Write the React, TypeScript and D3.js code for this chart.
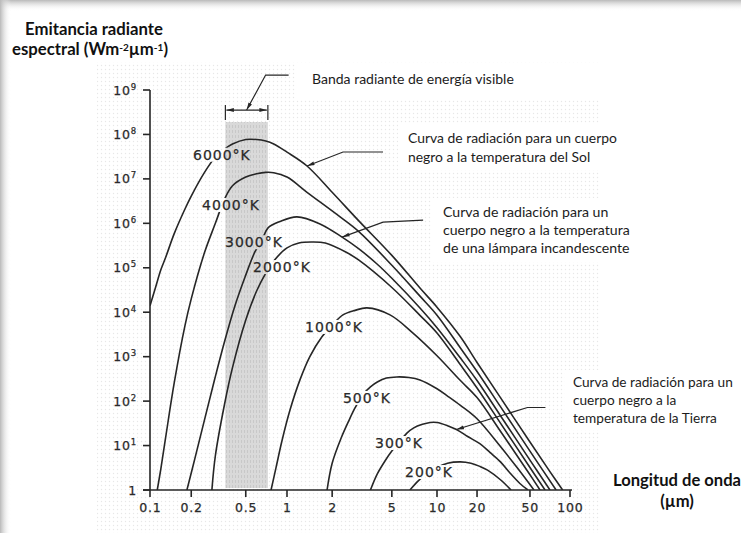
import React, { useEffect, useRef } from "react";
import * as d3 from "d3";

const W = 741;
const H = 533;

// ---- axis ticks ----
const xTickValues = [0.1, 0.2, 0.5, 1, 2, 5, 10, 20, 50, 100];
const xTickLabels = ["0.1", "0.2", "0.5", "1", "2", "5", "10", "20", "50", "100"];
const yTickValues = [1, 1e1, 1e2, 1e3, 1e4, 1e5, 1e6, 1e7, 1e8, 1e9];
const yTickExponents = [0, 1, 2, 3, 4, 5, 6, 7, 8, 9];

// ---- black-body curves: [wavelength µm, spectral emittance W m-2 µm-1] ----
const curve6000: [number, number][] = [
  [0.1, 1.4e4], [0.11, 3.7e4], [0.12, 9e4], [0.13, 1.7e5], [0.15, 5.8e5], [0.18, 2.1e6],
  [0.2, 4.1e6], [0.25, 1.4e7], [0.3, 3.1e7], [0.35, 4.7e7], [0.4, 6.1e7], [0.5, 7.7e7],
  [0.6, 7.7e7], [0.7, 7.1e7], [0.8, 6.1e7], [1, 4.0e7], [1.36, 1.95e7], [2, 5e6],
  [3, 1.15e6], [5, 1.9e5], [7.7, 3.5e4], [10, 1.3e4], [15, 2.8e3], [20, 740],
  [30, 120], [50, 12], [70, 2.7], [88, 1],
];
const curve4000: [number, number][] = [
  [0.113, 1], [0.12, 3], [0.13, 15], [0.15, 250], [0.18, 5e3], [0.2, 2e4], [0.25, 2.2e5],
  [0.3, 1e6], [0.35, 3.5e6], [0.4, 7e6], [0.5, 1.1e7], [0.6, 1.3e7], [0.7, 1.4e7],
  [0.8, 1.38e7], [1, 1.1e7], [1.36, 5e6], [2.26, 1.4e6], [3, 6.6e5], [5, 1.14e5],
  [7.7, 2.3e4], [10, 8.6e3], [15, 1.57e3], [20, 464], [30, 75], [50, 7.5], [78.6, 1],
];
const curve3000: [number, number][] = [
  [0.186, 1], [0.213, 5.2], [0.252, 42], [0.298, 330], [0.353, 2.4e3], [0.417, 1.4e4],
  [0.494, 6.2e4], [0.584, 2.3e5], [0.656, 4.2e5], [0.727, 7.9e5], [0.889, 1.1e6],
  [1.166, 1.4e6], [1.66, 9.7e5], [2.33, 4.9e5], [3, 2.7e5], [4, 1.2e5], [5, 5.8e4],
  [7.7, 1.25e4], [10, 4.5e3], [15, 930], [20, 290], [30, 47], [50, 4.7], [70.7, 1],
];
const curve2000: [number, number][] = [
  [0.283, 1], [0.3, 5.9], [0.35, 85], [0.4, 566], [0.5, 6.7e3], [0.6, 3e4], [0.7, 7.6e4],
  [0.8, 1.42e5], [1, 2.8e5], [1.2, 3.6e5], [1.45, 3.8e5], [1.8, 3.6e5], [2.5, 2.2e5],
  [3, 1.5e5], [5, 3.6e4], [7.7, 8.5e3], [10, 3.4e3], [15, 656], [20, 197], [30, 32],
  [50, 3.2], [64.9, 1],
];
const curve1000: [number, number][] = [
  [0.765, 1], [0.83, 3.1], [0.92, 13], [1.047, 63], [1.22, 300], [1.42, 1e3], [1.71, 2.8e3],
  [2.03, 5.4e3], [2.36, 8.7e3], [2.84, 1.1e4], [3.41, 1.25e4], [4.86, 8.7e3], [6.92, 3.4e3],
  [10, 1.05e3], [15, 290], [20, 120], [30, 21], [50, 2.2], [59.5, 1],
];
const curve500: [number, number][] = [
  [1.85, 1], [2, 4], [2.3, 15], [2.6, 38], [2.84, 70], [3.2, 140], [3.6, 210], [4, 270],
  [4.6, 330], [5.4, 350], [6.5, 340], [7.7, 300], [10, 190], [12, 130], [15, 80], [20, 40],
  [30, 9.5], [40, 3.2], [53.6, 1],
];
const curve300: [number, number][] = [
  [3.6, 1], [4, 2.3], [4.5, 4.5], [5, 7.5], [5.5, 11], [6.3, 19], [7, 25], [8, 30], [9, 33],
  [10, 33], [12, 28], [14, 23], [17, 16], [21, 11], [25, 7], [30, 4.3], [35, 2.5],
  [42, 1.4], [48.3, 1],
];
const curve200: [number, number][] = [
  [6.6, 1], [7.5, 1.6], [8.5, 2.3], [10, 3.2], [12, 4.0], [15, 4.3], [18, 4.0], [21, 3.4],
  [24, 2.8], [30, 1.7], [36, 1],
];

const curveNames = ["6000°K", "4000°K", "3000°K", "2000°K", "1000°K", "500°K", "300°K", "200°K"];
// label anchor (start, baseline) in data coordinates
const curveLabelAt: [number, number][] = [
  [0.206, 2.7e7], [0.24, 2e6], [0.353, 2.9e5], [0.565, 8e4], [1.32, 3.6e3], [2.36, 91],
  [3.86, 8.8], [6.13, 1.96],
];

// visible band (µm) and its top
const visibleBand = [0.355, 0.725];
const visibleBandTop = 1.9e8;

// leader tips on curves: [curve index, wavelength]
const sunArrow: [number, number] = [0, 1.36];
const lampArrow: [number, number] = [2, 2.33];
const earthArrow: [number, number] = [6, 14];

const titleLines = ["Emitancia radiante", "espectral (Wm"];
const xAxisTitle = ["Longitud de onda", "(µm)"];
const notes = [
  { lines: ["Banda radiante de energía visible"], x: 312, y0: 84, dy: 18, fit: 0, width: 202 },
  { lines: ["Curva de radiación para un cuerpo", "negro a la temperatura del Sol"], x: 408, y0: 143, dy: 18.5, fit: 0, width: 209 },
  { lines: ["Curva de radiación para un", "cuerpo negro a la temperatura", "de una lámpara incandescente"], x: 443, y0: 217, dy: 18, fit: 1, width: 187 },
  { lines: ["Curva de radiación para un", "cuerpo negro a la", "temperatura de la Tierra"], x: 573, y0: 387, dy: 18, fit: 0, width: 160 },
];

export default function App() {
  const ref = useRef<SVGSVGElement | null>(null);

  useEffect(() => {
    const svg = d3.select(ref.current as SVGSVGElement);
    svg.selectAll("*").remove();

    const x = d3.scaleLog().domain([0.1, 1, 10, 100]).range([150, 287, 437, 570]);
    const y = d3.scaleLog().domain([1, 1e9]).range([490, 90]);
    const curves = [curve6000, curve4000, curve3000, curve2000, curve1000, curve500, curve300, curve200];

    const ink = "#262626";
    const defs = svg.append("defs");

    const gTop = defs.append("linearGradient").attr("id", "shTop").attr("x1", 0).attr("y1", 0).attr("x2", 0).attr("y2", 1);
    gTop.append("stop").attr("offset", "0%").attr("stop-color", "#b9b9b9");
    gTop.append("stop").attr("offset", "100%").attr("stop-color", "#ffffff").attr("stop-opacity", 0);
    const gLeft = defs.append("linearGradient").attr("id", "shLeft").attr("x1", 0).attr("y1", 0).attr("x2", 1).attr("y2", 0);
    gLeft.append("stop").attr("offset", "0%").attr("stop-color", "#b9b9b9");
    gLeft.append("stop").attr("offset", "100%").attr("stop-color", "#ffffff").attr("stop-opacity", 0);

    const pat = defs.append("pattern").attr("id", "dots").attr("patternUnits", "userSpaceOnUse").attr("width", 4).attr("height", 4);
    pat.append("circle").attr("cx", 1.5).attr("cy", 1.5).attr("r", 0.7).attr("fill", "#e7e7e7");

    const bandPat = defs.append("pattern").attr("id", "bandPat").attr("patternUnits", "userSpaceOnUse").attr("width", 3).attr("height", 5);
    bandPat.append("rect").attr("width", 3).attr("height", 5).attr("fill", "#d9d9d9");
    bandPat.append("rect").attr("x", 1).attr("width", 1).attr("height", 3).attr("fill", "#c8c8c8");

    const marker = defs.append("marker").attr("id", "arr").attr("viewBox", "0 0 10 6")
      .attr("refX", 10).attr("refY", 3).attr("markerWidth", 8).attr("markerHeight", 4.5)
      .attr("markerUnits", "userSpaceOnUse").attr("orient", "auto-start-reverse");
    marker.append("path").attr("d", "M0,0.4 L10,3 L0,5.6 Z").attr("fill", ink);

    const clip = defs.append("clipPath").attr("id", "plotClip");
    clip.append("rect").attr("x", 150).attr("y", 60).attr("width", 430).attr("height", 430);

    const mask = defs.append("mask").attr("id", "lblMask").attr("maskUnits", "userSpaceOnUse")
      .attr("x", 0).attr("y", 0).attr("width", W).attr("height", H);
    mask.append("rect").attr("width", W).attr("height", H).attr("fill", "white");

    // background + frame shadow
    svg.append("rect").attr("width", W).attr("height", H).attr("fill", "#ffffff");
    svg.append("rect").attr("width", W).attr("height", 11).attr("fill", "url(#shTop)");
    svg.append("rect").attr("width", 11).attr("height", H).attr("fill", "url(#shLeft)");

    // halftone texture of the scanned figure
    svg.append("rect").attr("x", 97).attr("y", 62).attr("width", 503).attr("height", 471).attr("fill", "url(#dots)");
    const boxes = [[296, 64, 304, 36], [398, 124, 202, 46], [432, 198, 168, 64], [565, 370, 35, 60]];
    boxes.forEach(b => svg.append("rect").attr("x", b[0]).attr("y", b[1]).attr("width", b[2]).attr("height", b[3]).attr("fill", "#fff"));

    // visible band
    svg.append("rect")
      .attr("x", x(visibleBand[0])).attr("y", y(visibleBandTop))
      .attr("width", x(visibleBand[1]) - x(visibleBand[0]))
      .attr("height", y(1) - 2 - y(visibleBandTop))
      .attr("fill", "url(#bandPat)");

    // axes
    const axis = svg.append("g").attr("stroke", ink).attr("stroke-width", 1.6);
    axis.append("line").attr("x1", x(0.1)).attr("x2", x(0.1)).attr("y1", y(1e9)).attr("y2", y(1));
    axis.append("line").attr("x1", x(0.1) - 7).attr("x2", x(100) + 2).attr("y1", y(1)).attr("y2", y(1));
    yTickValues.forEach(v => axis.append("line").attr("x1", x(0.1) - 7).attr("x2", x(0.1)).attr("y1", y(v)).attr("y2", y(v)));
    xTickValues.forEach(v => axis.append("line").attr("x1", x(v)).attr("x2", x(v)).attr("y1", y(1)).attr("y2", y(1) + 7));

    const tickFont = (s: any) => s.attr("font-family", "DejaVu Sans").attr("font-size", 12.5)
      .attr("letter-spacing", 0.8).attr("fill", "#2a2a2a").attr("stroke", "#2a2a2a").attr("stroke-width", 0.25);

    xTickValues.forEach((v, i) => {
      tickFont(svg.append("text")).attr("x", x(v) + 0.4).attr("y", y(1) + 22).attr("text-anchor", "middle").text(xTickLabels[i]);
    });
    yTickValues.forEach((v, i) => {
      const t = tickFont(svg.append("text")).attr("x", x(0.1) - 13).attr("y", y(v) + 4.5).attr("text-anchor", "end");
      if (yTickExponents[i] === 0) {
        t.text("1");
      } else {
        t.append("tspan").text("10");
        t.append("tspan").attr("dy", -5).attr("font-size", 8.5).text(String(yTickExponents[i]));
      }
    });

    // curve labels (measured to cut gaps in curves)
    curveNames.forEach((name, i) => {
      const t = svg.append("text")
        .attr("x", x(curveLabelAt[i][0])).attr("y", y(curveLabelAt[i][1]))
        .attr("font-family", "DejaVu Sans").attr("font-size", 14).attr("letter-spacing", 1)
        .attr("fill", "#2a2a2a").attr("stroke", "#2a2a2a").attr("stroke-width", 0.25)
        .text(name);
      const bb = (t.node() as SVGTextElement).getBBox();
      mask.append("rect").attr("x", bb.x - 1).attr("y", bb.y + 1).attr("width", bb.width + 1).attr("height", bb.height - 2).attr("fill", "black");
    });

    // curves
    const line = d3.line<[number, number]>()
      .x(d => x(d[0])).y(d => y(d[1]))
      .curve(d3.curveCatmullRom.alpha(0.5));
    const cg = svg.append("g").attr("clip-path", "url(#plotClip)").append("g").attr("mask", "url(#lblMask)");
    curves.forEach(c => {
      cg.append("path").attr("d", line(c) as string).attr("fill", "none").attr("stroke", ink).attr("stroke-width", 1.6);
    });

    // helper: point on a curve at a wavelength (log interpolation between read points)
    const onCurve = (ci: number, lam: number): [number, number] => {
      const c = curves[ci];
      let k = 0;
      while (k < c.length - 2 && c[k + 1][0] < lam) k++;
      const a = c[k], b = c[k + 1];
      const tt = (Math.log(lam) - Math.log(a[0])) / (Math.log(b[0]) - Math.log(a[0]));
      const e = Math.exp(Math.log(a[1]) + tt * (Math.log(b[1]) - Math.log(a[1])));
      return [x(lam), y(e)];
    };

    const lead = svg.append("g").attr("fill", "none").attr("stroke", ink).attr("stroke-width", 1.2);
    const leader = (pts: [number, number][]) =>
      lead.append("path").attr("d", d3.line()(pts) as string).attr("marker-end", "url(#arr)");

    // visible band bracket
    const bx0 = x(visibleBand[0]), bx1 = x(visibleBand[1]);
    const by = y(visibleBandTop) - 12;
    lead.append("line").attr("x1", bx0 + 1).attr("x2", bx1 - 1).attr("y1", by).attr("y2", by)
      .attr("marker-start", "url(#arr)").attr("marker-end", "url(#arr)");
    lead.append("line").attr("x1", bx0).attr("x2", bx0).attr("y1", by - 5).attr("y2", by + 10);
    lead.append("line").attr("x1", bx1).attr("x2", bx1).attr("y1", by - 5).attr("y2", by + 10);
    const bm = (bx0 + bx1) / 2;
    leader([[bm + 42, by - 35], [bm + 19, by - 35], [bm, by]]);

    const sp = onCurve(sunArrow[0], sunArrow[1]);
    leader([[sp[0] + 76, sp[1] - 14], [sp[0] + 36, sp[1] - 14], sp]);
    const lp = onCurve(lampArrow[0], lampArrow[1]);
    leader([[lp[0] + 81, lp[1] - 17], [lp[0] + 41, lp[1] - 15], lp]);
    const ep = onCurve(earthArrow[0], earthArrow[1]);
    leader([[ep[0] + 89, ep[1] - 22], [ep[0] + 71, ep[1] - 22], ep]);

    // annotation text blocks
    notes.forEach(n => {
      const ts = n.lines.map((l, i) =>
        svg.append("text").attr("x", n.x).attr("y", n.y0 + i * n.dy)
          .attr("font-family", "Lato").attr("font-size", 14).attr("fill", "#1c1c1c").text(l));
      const w = (ts[n.fit].node() as SVGTextElement).getComputedTextLength();
      const fs = 14 * n.width / w;
      ts.forEach(t => t.attr("font-size", fs));
    });

    // title
    const t1 = svg.append("text").attr("x", 94).attr("y", 35).attr("text-anchor", "middle")
      .attr("font-family", "Lato").attr("font-weight", "bold").attr("font-size", 16).attr("fill", "#111")
      .text(titleLines[0]);
    const fsT = 16 * 138 / (t1.node() as SVGTextElement).getComputedTextLength();
    t1.attr("font-size", fsT);
    const t2 = svg.append("text").attr("x", 90).attr("y", 55).attr("text-anchor", "middle")
      .attr("font-family", "Lato").attr("font-weight", "bold").attr("font-size", fsT).attr("fill", "#111");
    t2.append("tspan").text(titleLines[1]);
    t2.append("tspan").attr("dy", -4.5).attr("font-size", fsT * 0.6).text("-2");
    t2.append("tspan").attr("dy", 4.5).text("µm");
    t2.append("tspan").attr("dy", -4.5).attr("font-size", fsT * 0.6).text("-1");
    t2.append("tspan").attr("dy", 4.5).text(")");

    const a1 = svg.append("text").attr("x", 677).attr("y", 486).attr("text-anchor", "middle")
      .attr("font-family", "Lato").attr("font-weight", "bold").attr("font-size", 16).attr("fill", "#111")
      .text(xAxisTitle[0]);
    const fsA = 16 * 128 / (a1.node() as SVGTextElement).getComputedTextLength();
    a1.attr("font-size", fsA);
    svg.append("text").attr("x", 677).attr("y", 507).attr("text-anchor", "middle")
      .attr("font-family", "Lato").attr("font-weight", "bold").attr("font-size", fsA).attr("fill", "#111")
      .text(xAxisTitle[1]);
  }, []);

  return (
    <div style={{ position: "absolute", left: 0, top: 0, width: W, height: H }}>
      <svg ref={ref} width={W} height={H} style={{ display: "block" }} />
    </div>
  );
}
